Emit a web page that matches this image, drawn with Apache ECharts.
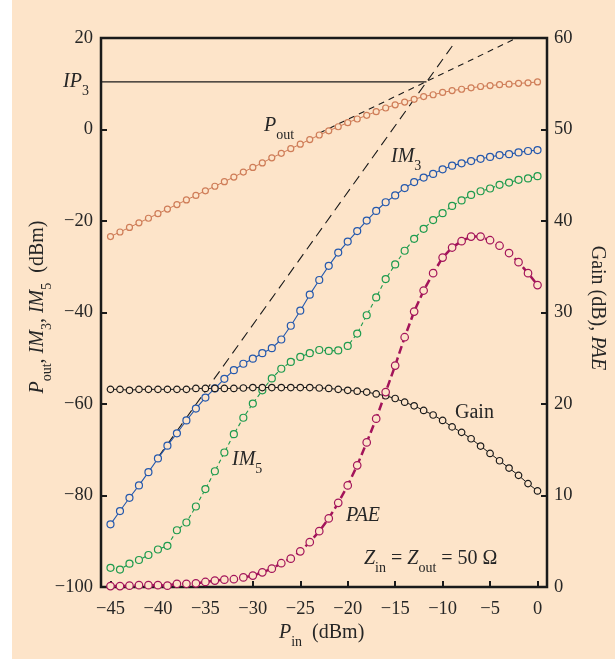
<!DOCTYPE html>
<html><head><meta charset="utf-8">
<script src="https://cdn.jsdelivr.net/npm/echarts@6/dist/echarts.min.js"></script>
<style>html,body{margin:0;padding:0;background:#fff}#c{width:615px;height:659px}</style>
</head><body><div id="c"></div>
<script>
// ---- data ----
const pin = [-45,-44,-43,-42,-41,-40,-39,-38,-37,-36,-35,-34,-33,-32,-31,-30,-29,-28,-27,-26,-25,-24,-23,-22,-21,-20,-19,-18,-17,-16,-15,-14,-13,-12,-11,-10,-9,-8,-7,-6,-5,-4,-3,-2,-1,0];
const pout = [-23.4,-22.4,-21.4,-20.4,-19.4,-18.4,-17.4,-16.4,-15.4,-14.4,-13.4,-12.4,-11.4,-10.4,-9.3,-8.3,-7.3,-6.2,-5.2,-4.2,-3.2,-2.2,-1.2,-0.3,0.6,1.5,2.3,3.1,3.9,4.7,5.4,6.0,6.6,7.2,7.6,8.1,8.5,8.8,9.1,9.4,9.6,9.8,9.9,10.1,10.2,10.4];
const im3 = [-86.3,-83.4,-80.5,-77.8,-74.9,-71.9,-69.1,-66.4,-63.6,-61.0,-58.6,-56.6,-54.5,-52.6,-51.2,-50.1,-48.9,-47.8,-45.9,-42.9,-39.6,-36.1,-32.9,-29.8,-26.9,-24.5,-22.2,-19.9,-17.8,-15.9,-14.4,-12.8,-11.5,-10.5,-9.7,-8.7,-7.9,-7.4,-6.9,-6.4,-6.0,-5.6,-5.4,-5.0,-4.7,-4.5];
const im5 = [-95.8,-96.2,-94.9,-94.1,-93.0,-91.8,-91.0,-87.6,-85.9,-82.4,-78.6,-74.7,-70.6,-66.6,-63.0,-59.9,-57.0,-54.4,-52.3,-50.8,-49.7,-48.9,-48.2,-48.4,-48.3,-47.3,-44.6,-40.6,-36.7,-32.7,-29.5,-26.5,-23.9,-21.7,-19.8,-18.3,-16.7,-15.5,-14.3,-13.5,-12.9,-12.1,-11.6,-11.0,-10.7,-10.2];
const gain = [21.6,21.6,21.5,21.6,21.6,21.6,21.6,21.6,21.6,21.7,21.7,21.7,21.7,21.7,21.75,21.8,21.8,21.8,21.8,21.8,21.8,21.8,21.75,21.7,21.6,21.5,21.4,21.3,21.1,20.9,20.6,20.2,19.8,19.3,18.8,18.2,17.5,16.9,16.2,15.4,14.6,13.8,13.0,12.2,11.3,10.5];
const pae = [0.1,0.1,0.15,0.2,0.2,0.2,0.15,0.35,0.35,0.4,0.55,0.7,0.8,0.85,1.05,1.25,1.6,2.0,2.6,3.1,3.9,4.9,6.1,7.5,9.2,11.1,13.3,15.8,18.4,21.3,24.2,27.3,30.1,32.4,34.3,36.0,37.1,37.8,38.3,38.3,37.9,37.3,36.5,35.5,34.3,33.0];
const ip3Line = [[-46, 10.4], [-11.7, 10.4]];
const poutAsym = [[-23, -0.8], [-2.2, 20]];
const im3Asym = [[-40, -71.7], [-8.9, 18.5]];
const xTicks = [-45,-40,-35,-30,-25,-20,-15,-10,-5,0];

// ---- styling ----
const BG = '#fde4c9';
const SERIF = '"Liberation Serif","Times New Roman",serif';
const TXT = '#262626';
const fmt = v => v < 0 ? '\u2212' + Math.abs(v) : String(v);
const zip = arr => pin.map((x, i) => [x, arr[i]]);
const rich = {
  i: {fontFamily: SERIF, fontSize: 20, fontStyle: 'italic', fill: TXT},
  r: {fontFamily: SERIF, fontSize: 20, fill: TXT},
  s: {fontFamily: SERIF, fontSize: 14, fill: TXT, padding: [18, 0, 0, 0]}
};
function label(text, x, y, align, rot) {
  return {type: 'text', x: x, y: y, rotation: rot || 0, z: 100,
    style: {text: text, rich: rich, textAlign: align, textVerticalAlign: 'middle', fill: TXT, font: '20px ' + SERIF}};
}
function mk(name, data, color, yi, size, lw, dash) {
  return {name: name, type: 'line', data: zip(data), yAxisIndex: yi,
    symbol: 'circle', symbolSize: size,
    itemStyle: {color: BG, borderColor: color, borderWidth: 1.2},
    lineStyle: {color: color, width: lw, type: dash || 'solid'},
    emphasis: {disabled: true}};
}
function plain(data, dash) {
  return {type: 'line', data: data, symbol: 'none', yAxisIndex: 0,
    lineStyle: {color: '#1a1a1a', width: 1.1, type: dash}, emphasis: {disabled: true}};
}
const axisTxt = {fontFamily: SERIF, fontSize: 18.5, color: TXT};

const chart = echarts.init(document.getElementById('c'));
chart.setOption({
  animation: false,
  backgroundColor: BG,
  grid: {left: 101, top: 38, width: 446, height: 549, show: true, borderColor: '#1a1a1a', borderWidth: 2.5, backgroundColor: 'transparent'},
  xAxis: {type: 'value', min: -46, max: 1, splitLine: {show: false},
    axisLine: {show: false, onZero: false},
    axisTick: {inside: true, length: 6, lineStyle: {color: '#1a1a1a', width: 2}, customValues: xTicks},
    axisLabel: Object.assign({margin: 13, formatter: fmt, customValues: xTicks}, axisTxt)},
  yAxis: [
    {type: 'value', position: 'left', min: -100, max: 20, interval: 20, splitLine: {show: false},
      axisLine: {show: false, onZero: false},
      axisTick: {inside: true, length: 6, lineStyle: {color: '#1a1a1a', width: 2}},
      axisLabel: Object.assign({margin: 8, formatter: fmt}, axisTxt)},
    {type: 'value', position: 'right', min: 0, max: 60, interval: 10, splitLine: {show: false},
      axisLine: {show: false, onZero: false},
      axisTick: {inside: true, length: 6, lineStyle: {color: '#1a1a1a', width: 2}},
      axisLabel: Object.assign({margin: 7, formatter: fmt}, axisTxt)}
  ],
  series: [
    plain(ip3Line, 'solid'),
    plain(poutAsym, [6, 5]),
    plain(im3Asym, [10, 6]),
    mk('Pout', pout, '#cf7d58', 0, 6, 1, 'solid'),
    mk('IM3', im3, '#2458ad', 0, 7, 1.1, 'solid'),
    mk('IM5', im5, '#1e9b4e', 0, 7, 1.1, [4, 3]),
    mk('Gain', gain, '#1a1a1a', 1, 6.5, 1, 'solid'),
    mk('PAE', pae, '#a3145a', 1, 7.5, 2.5, [8, 4])
  ],
  graphic: [
    {type: 'rect', shape: {x: 0, y: 0, width: 12, height: 659}, style: {fill: '#fff'}, z: -10},
    label('{i|IP}{s|3}', 89, 82, 'right'),
    label('{i|P}{s|out}', 264, 126, 'left'),
    label('{i|IM}{s|3}', 391, 157, 'left'),
    label('{i|IM}{s|5}', 232, 460, 'left'),
    label('{i|PAE}', 346, 516, 'left'),
    label('{r|Gain}', 455, 413, 'left'),
    label('{i|Z}{s|in}{r| = }{i|Z}{s|out}{r| = 50 \u03A9}', 364, 559, 'left'),
    label('{i|P}{s|in}{r|  (dBm)}', 279, 633, 'left'),
    label('{i|P}{s|out}{r|, }{i|IM}{s|3}{r|, }{i|IM}{s|5}{r|  (dBm)}', 38, 307, 'center', Math.PI / 2),
    label('{r|Gain (dB), }{i|PAE}', 597, 308, 'center', -Math.PI / 2)
  ]
});
</script></body></html>
